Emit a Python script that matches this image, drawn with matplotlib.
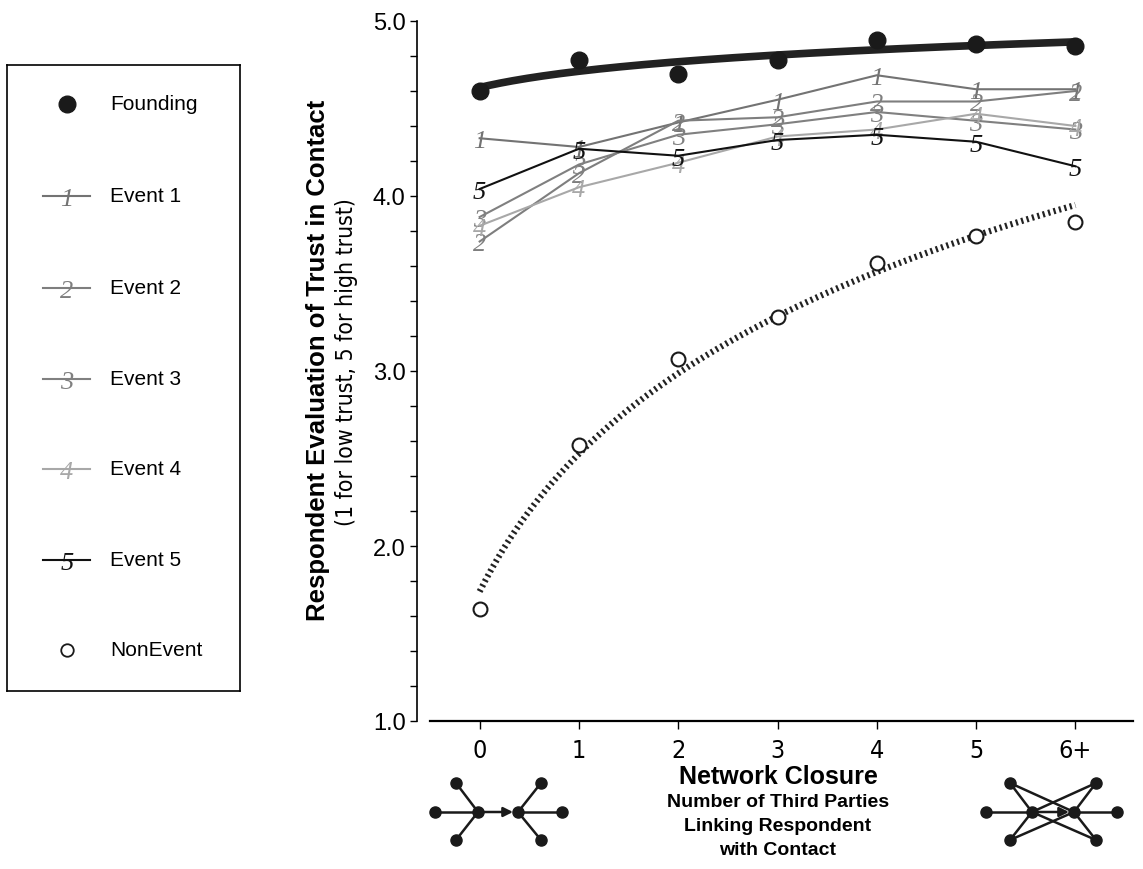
import matplotlib
matplotlib.use("Agg")
import matplotlib.pyplot as plt
import numpy as np

# network closure categories
closure = [0, 1, 2, 3, 4, 5, 6]
closure_labels = ["0", "1", "2", "3", "4", "5", "6+"]

founding = [4.60, 4.78, 4.70, 4.78, 4.89, 4.87, 4.86]
event1 = [4.33, 4.28, 4.42, 4.55, 4.69, 4.61, 4.61]
event2 = [3.74, 4.13, 4.43, 4.45, 4.54, 4.54, 4.60]
event3 = [3.88, 4.18, 4.35, 4.41, 4.48, 4.43, 4.38]
event4 = [3.83, 4.05, 4.19, 4.34, 4.38, 4.47, 4.40]
event5 = [4.04, 4.27, 4.23, 4.32, 4.35, 4.31, 4.17]
nonevent = [1.64, 2.58, 3.07, 3.31, 3.62, 3.77, 3.85]

# log trend lines: intercept, slope on ln(closure + 1)
founding_trend = (4.62, 0.134)
nonevent_trend = (1.74, 1.135)

events = [event1, event2, event3, event4, event5]
event_colors = ["#737373", "#7e7e7e", "#808080", "#a8a8a8", "#111111"]

plt.rcParams["font.family"] = ["Liberation Sans", "DejaVu Sans"]
cond = dict(family="DejaVu Sans", fontstretch="condensed")
digit = dict(family=["Liberation Serif", "DejaVu Serif"], fontstyle="italic",
             fontsize=19, ha="center", va="center")

W, H = 1143, 870
fig = plt.figure(figsize=(W / 100, H / 100), dpi=100)

ax = fig.add_axes([430 / W, 1 - 722 / H, (1133 - 430) / W, (722 - 22) / H])
ax.set_xlim(-0.5, 6.58)
ax.set_ylim(1, 5)

xs = np.linspace(0, 6, 200)
ax.plot(xs, founding_trend[0] + founding_trend[1] * np.log1p(xs),
        color="#222222", lw=5.5, solid_capstyle="round", zorder=3)
ax.plot(xs, nonevent_trend[0] + nonevent_trend[1] * np.log1p(xs),
        color="#222222", lw=4.5, linestyle=(0, (0.35, 0.55)),
        dash_capstyle="butt", zorder=3)

for i, (vals, col) in enumerate(zip(events, event_colors)):
    ax.plot(closure, vals, color=col, lw=1.5, zorder=4 + i)
    for x, v in zip(closure, vals):
        ax.annotate(str(i + 1), (x, v), xytext=(0, -2),
                    textcoords="offset points", color=col, zorder=4 + i,
                    **digit)

ax.plot(closure, founding, "o", color="#1a1a1a", ms=12, zorder=10)
ax.plot(closure, nonevent, "o", mfc="white", mec="#1a1a1a", mew=1.5,
        ms=10, zorder=10)

ax.spines["top"].set_visible(False)
ax.spines["right"].set_visible(False)
ax.spines["left"].set_position(("outward", 9.5))
ax.spines["left"].set_bounds(1, 5)
ax.spines["left"].set_linewidth(1.2)
ax.spines["bottom"].set_linewidth(1.6)

ax.set_yticks([1, 2, 3, 4, 5])
ax.set_yticklabels(["1.0", "2.0", "3.0", "4.0", "5.0"])
ax.set_yticks(np.arange(1, 5.01, 0.2), minor=True)
ax.tick_params(axis="y", which="both", direction="out", length=5,
               width=1, labelsize=17, pad=3)
ax.set_xticks(closure)
ax.set_xticklabels(closure_labels, **cond)
ax.tick_params(axis="x", direction="out", length=6, width=1,
               labelsize=18, pad=6)

# axis titles
fig.text(318 / W, 1 - 360 / H, "Respondent Evaluation of Trust in Contact",
         rotation=90, ha="center", va="center", fontsize=18.5,
         fontweight="bold")
fig.text(347 / W, 1 - 362 / H, "(1 for low trust, 5 for high trust)",
         rotation=90, ha="center", va="center", fontsize=16.5, **cond)
fig.text(778 / W, 1 - 777 / H, "Network Closure", ha="center", va="center",
         fontsize=18, fontweight="bold")
for txt, yy in [("Number of Third Parties", 803),
                ("Linking Respondent", 827),
                ("with Contact", 851)]:
    fig.text(778 / W, 1 - yy / H, txt, ha="center", va="center",
             fontsize=14, fontweight="bold")

# legend box
lax = fig.add_axes([7 / W, 1 - 692 / H, 233 / W, 626 / H])
lax.set_xlim(0, 233)
lax.set_ylim(626, 0)
lax.set_xticks([])
lax.set_yticks([])
for s in lax.spines.values():
    s.set_linewidth(1.2)
rows = [39, 131, 223, 314, 404, 495, 585]
lax.plot([60], [rows[0]], "o", color="#1a1a1a", ms=12)
lax.text(103, rows[0], "Founding", va="center", fontsize=15)
for i, col in enumerate(event_colors):
    y = rows[i + 1]
    lax.plot([36, 83], [y, y], color=col, lw=1.5)
    lax.text(60, y + 3, str(i + 1), color=col, **digit)
    lax.text(103, y, "Event %d" % (i + 1), va="center", fontsize=15)
lax.plot([60], [rows[6]], "o", mfc="white", mec="#1a1a1a", mew=1.3, ms=9)
lax.text(103, rows[6], "NonEvent", va="center", fontsize=15)

# small network diagrams under the axis
dax = fig.add_axes([0, 0, 1, 1], zorder=-1)
dax.set_xlim(0, W)
dax.set_ylim(H, 0)
dax.axis("off")


def diagram(xl, xcl, xcr, xr, xtl, xtr, closed):
    yt, ym, yb = 784, 813, 841
    edges = [((xl, ym), (xcl, ym)), ((xcr, ym), (xr, ym)),
             ((xtl, yt), (xcl, ym)), ((xtl, yb), (xcl, ym)),
             ((xtr, yt), (xcr, ym)), ((xtr, yb), (xcr, ym))]
    if closed:
        edges += [((xtl, yt), (xcr, ym)), ((xtl, yb), (xcr, ym)),
                  ((xtr, yt), (xcl, ym)), ((xtr, yb), (xcl, ym))]
    for a, b in edges:
        dax.plot([a[0], b[0]], [a[1], b[1]], color="#1a1a1a", lw=1.8)
    dax.annotate("", xy=(xcr - 5, ym), xytext=(xcl, ym),
                 arrowprops=dict(arrowstyle="-|>", color="#1a1a1a", lw=1.8,
                                 mutation_scale=14, shrinkA=0, shrinkB=0))
    nx = [xl, xcl, xcr, xr, xtl, xtl, xtr, xtr]
    ny = [ym, ym, ym, ym, yt, yb, yt, yb]
    dax.plot(nx, ny, "o", color="#1a1a1a", ms=8)


diagram(435, 478, 518, 562, 456, 541, False)
diagram(986, 1032, 1074, 1117, 1010, 1096, True)

fig.savefig("out.png", dpi=100)
